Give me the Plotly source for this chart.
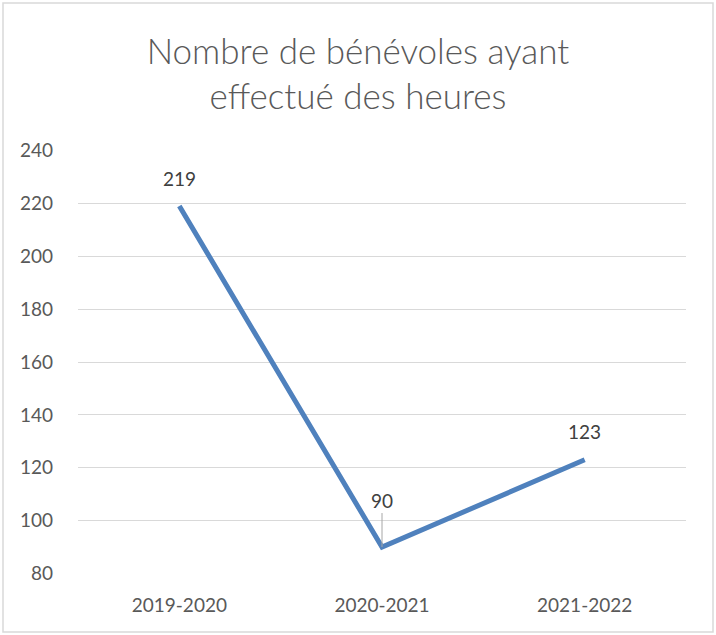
import plotly.graph_objects as go

saisons = ["2019-2020", "2020-2021", "2021-2022"]
benevoles = [219, 90, 123]
y_ticks = [80, 100, 120, 140, 160, 180, 200, 220, 240]

gris_texte = "#595959"
bleu = "#4F81BD"

fig = go.Figure()
fig.add_trace(
    go.Scatter(
        x=saisons,
        y=benevoles,
        mode="lines",
        line={"color": bleu, "width": 5},
        showlegend=False,
        hoverinfo="x+y",
    )
)

# étiquettes de données (celle de 90 avec une ligne de rappel)
for s, v in zip(saisons, benevoles):
    if v == min(benevoles):
        fig.add_annotation(
            x=s, y=v, text=str(v), showarrow=True, arrowhead=0, arrowwidth=1,
            arrowcolor="#A6A6A6", ax=0, ay=-47, standoff=0,
            font={"size": 19, "color": "#404040"}, yanchor="middle",
        )
    else:
        fig.add_annotation(
            x=s, y=v, text=str(v), showarrow=False, yshift=28,
            font={"size": 19, "color": "#404040"},
        )

fig.update_layout(
    width=716,
    height=635,
    paper_bgcolor="white",
    plot_bgcolor="white",
    font={"family": "Lato, Open Sans, sans-serif", "color": gris_texte},
    title={
        "text": "Nombre de bénévoles ayant<br>effectué des heures",
        "x": 0.5,
        "xanchor": "center",
        "y": 0.9,
        "yanchor": "middle",
        "font": {"size": 35, "color": gris_texte, "weight": 300},
    },
    margin={"l": 78, "r": 30, "t": 150, "b": 61},
    xaxis={
        "type": "category",
        "range": [-0.5, 2.5],
        "showgrid": False,
        "showline": False,
        "ticks": "",
        "tickfont": {"size": 19, "color": gris_texte},
        "ticklabelstandoff": 18,
    },
    yaxis={
        "range": [79.8, 240.2],
        "tickvals": y_ticks,
        "showgrid": True,
        "gridcolor": "#D9D9D9",
        "gridwidth": 1,
        "zeroline": False,
        "showline": False,
        "ticks": "",
        "tickfont": {"size": 19, "color": gris_texte},
        "ticklabelstandoff": 24,
    },
    shapes=[
        {
            "type": "rect", "xref": "paper", "yref": "paper",
            "x0": -75 / 608, "x1": 1 + 27 / 608,
            "y0": -58 / 424, "y1": 1 + 147 / 424,
            "line": {"color": "#D9D9D9", "width": 1.5},
        }
    ],
)

fig.write_html(
    "out.html",
    config={"displayModeBar": False},
    post_script="document.body.style.margin='0';",
)
